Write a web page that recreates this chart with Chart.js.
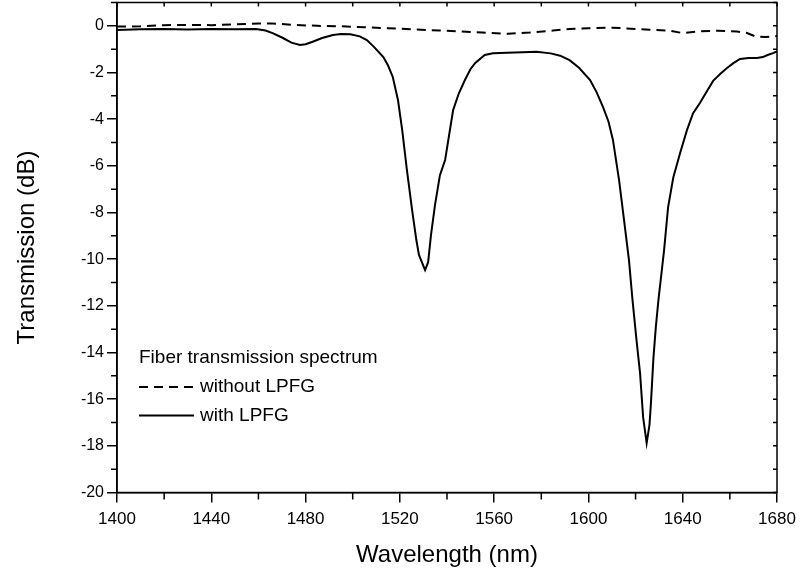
<!DOCTYPE html>
<html>
<head>
<meta charset="utf-8">
<script src="https://cdn.jsdelivr.net/npm/chart.js@4.4.1/dist/chart.umd.min.js"></script>
<style>
  html, body { margin: 0; padding: 0; background: #fff; }
</style>
</head>
<body>
<canvas id="chart" width="801" height="577"></canvas>
<script>
// spectrum without the grating (dashed)
const plainWl = [1400, 1410, 1420, 1430, 1440, 1450, 1460, 1466, 1475, 1485, 1495, 1505, 1515, 1525,
  1537, 1545, 1555, 1566, 1575, 1585, 1592, 1600, 1610, 1618, 1626, 1634, 1640, 1647, 1655, 1663,
  1667, 1671, 1675, 1680];
const plainDb = [-0.03, -0.02, 0.03, 0.04, 0.03, 0.06, 0.1, 0.1, 0.04, 0.0, -0.02, -0.06, -0.1, -0.15,
  -0.2, -0.24, -0.29, -0.34, -0.29, -0.2, -0.14, -0.1, -0.08, -0.12, -0.17, -0.2, -0.31, -0.24, -0.21, -0.24,
  -0.3, -0.46, -0.48, -0.44];

// spectrum with the LPFG (solid)
const lpfgWl = [1400, 1410, 1420, 1430, 1440, 1450, 1459, 1463, 1466, 1470, 1474, 1477.6, 1480, 1483, 1487,
  1491.6, 1495, 1499, 1503, 1506, 1509, 1513, 1515, 1517, 1519.2, 1521, 1523, 1525.2, 1527, 1528.1,
  1530.7, 1532, 1533.2, 1534.9, 1537, 1539.2, 1542.6, 1545, 1547.6, 1550, 1552, 1556, 1559.5, 1565.5,
  1572, 1578, 1584, 1588, 1592, 1596, 1600.7, 1603.5, 1606.2, 1608.5, 1610.4, 1613, 1615.1, 1617.2,
  1618.7, 1620.4, 1621.9, 1623.2, 1624.7, 1625.9, 1626.5, 1627.6, 1628.6, 1629.7, 1632.1, 1633.8, 1636,
  1638.9, 1641.8, 1644.4, 1647.3, 1650, 1652.9, 1656, 1658.8, 1661.5, 1664.3, 1668, 1671.5, 1674, 1676,
  1678.3, 1680];
const lpfgDb = [-0.18, -0.15, -0.14, -0.16, -0.14, -0.15, -0.14, -0.2, -0.31, -0.5, -0.72, -0.82, -0.79, -0.68, -0.52,
  -0.39, -0.35, -0.36, -0.45, -0.61, -0.9, -1.34, -1.7, -2.19, -3.18, -4.47, -6.18, -7.9, -9.18, -9.82,
  -10.47, -10.13, -8.97, -7.68, -6.4, -5.75, -3.61, -2.9, -2.32, -1.85, -1.59, -1.25, -1.18, -1.15,
  -1.13, -1.11, -1.18, -1.28, -1.47, -1.8, -2.32, -2.85, -3.48, -4.1, -4.89, -6.61, -8.32, -10.04,
  -11.75, -13.47, -14.88, -16.77, -17.88, -17.1, -16.2, -14.2, -12.9, -11.75, -9.61, -7.77, -6.5,
  -5.45, -4.47, -3.74, -3.31, -2.85, -2.36, -2.05, -1.81, -1.6, -1.42, -1.38, -1.38, -1.34, -1.25,
  -1.17, -1.1];

const xTicks = [1400, 1440, 1480, 1520, 1560, 1600, 1640, 1680];
const yTicks = [0, -2, -4, -6, -8, -10, -12, -14, -16, -18, -20];

const toPoints = (xs, ys) => xs.map((x, i) => ({ x, y: ys[i] }));
const FONT = "'Liberation Sans', Arial, sans-serif";

// box around the plot, minor ticks and the inward ticks on top/right
const frame = {
  id: "frame",
  afterDraw(chart) {
    const { ctx, chartArea: a, scales: { x, y } } = chart;
    ctx.save();
    ctx.strokeStyle = "#000";
    ctx.lineWidth = 1.5;
    ctx.strokeRect(a.left, a.top, a.right - a.left, a.bottom - a.top);
    ctx.beginPath();
    for (let v = 1400; v <= 1680; v += 20) {
      const px = x.getPixelForValue(v);
      if (v % 40) { ctx.moveTo(px, a.bottom); ctx.lineTo(px, a.bottom + 7); }
      ctx.moveTo(px, a.top); ctx.lineTo(px, a.top + 4);
    }
    for (let v = -20; v <= 1; v += 1) {
      const py = y.getPixelForValue(v);
      if (v % 2) { ctx.moveTo(a.left, py); ctx.lineTo(a.left - 6, py); }
      ctx.moveTo(a.right, py); ctx.lineTo(a.right - 4, py);
    }
    ctx.stroke();
    ctx.restore();
  }
};

// legend block in the lower left of the plot
const legendBox = {
  id: "legendBox",
  afterDraw(chart) {
    const { ctx } = chart;
    ctx.save();
    ctx.fillStyle = "#000";
    ctx.font = "19px " + FONT;
    ctx.textBaseline = "middle";
    ctx.fillText("Fiber transmission spectrum", 139, 358);
    chart.data.datasets.forEach((ds, i) => {
      const yy = 387 + i * 28.5;
      ctx.strokeStyle = "#000";
      ctx.lineWidth = 2;
      ctx.setLineDash(ds.borderDash || []);
      ctx.beginPath();
      ctx.moveTo(139, yy);
      ctx.lineTo(194, yy);
      ctx.stroke();
      ctx.setLineDash([]);
      ctx.fillText(ds.label, 200, yy);
    });
    ctx.restore();
  }
};

new Chart(document.getElementById("chart"), {
  type: "line",
  data: {
    datasets: [
      { label: "without LPFG", data: toPoints(plainWl, plainDb), borderColor: "#000",
        borderWidth: 2, borderDash: [9, 6], pointRadius: 0, tension: 0 },
      { label: "with LPFG", data: toPoints(lpfgWl, lpfgDb), borderColor: "#000",
        borderWidth: 2, pointRadius: 0, tension: 0 }
    ]
  },
  options: {
    responsive: false,
    animation: false,
    layout: { padding: { top: 2.5, right: 24 } },
    plugins: { legend: { display: false }, tooltip: { enabled: false } },
    scales: {
      x: {
        type: "linear", min: 1400, max: 1680,
        afterBuildTicks: s => { s.ticks = xTicks.map(value => ({ value })); },
        afterFit: s => { s.height = 84.5; s.paddingLeft = 0; s.paddingRight = 0; },
        grid: { drawOnChartArea: false, tickLength: 10, color: "#000", lineWidth: 1.5 },
        border: { color: "#000", width: 1.5 },
        ticks: { color: "#000", padding: 7, maxRotation: 0, callback: v => String(v),
          font: { family: FONT, size: 17 } },
        title: { display: true, text: "Wavelength (nm)", color: "#000",
          font: { family: FONT, size: 24 }, padding: { top: 0, bottom: 7 } }
      },
      y: {
        min: -20, max: 1,
        afterBuildTicks: s => { s.ticks = yTicks.map(value => ({ value })); },
        afterFit: s => { s.width = 117; s.paddingTop = 0; s.paddingBottom = 0; },
        grid: { drawOnChartArea: false, tickLength: 10, color: "#000", lineWidth: 1.5 },
        border: { color: "#000", width: 1.5 },
        ticks: { color: "#000", padding: 3, callback: v => String(v),
          font: { family: FONT, size: 16 } },
        title: { display: true, text: "Transmission (dB)", color: "#000",
          font: { family: FONT, size: 24 }, padding: { top: 13, bottom: 0 } }
      }
    }
  },
  plugins: [frame, legendBox]
});
</script>
</body>
</html>
